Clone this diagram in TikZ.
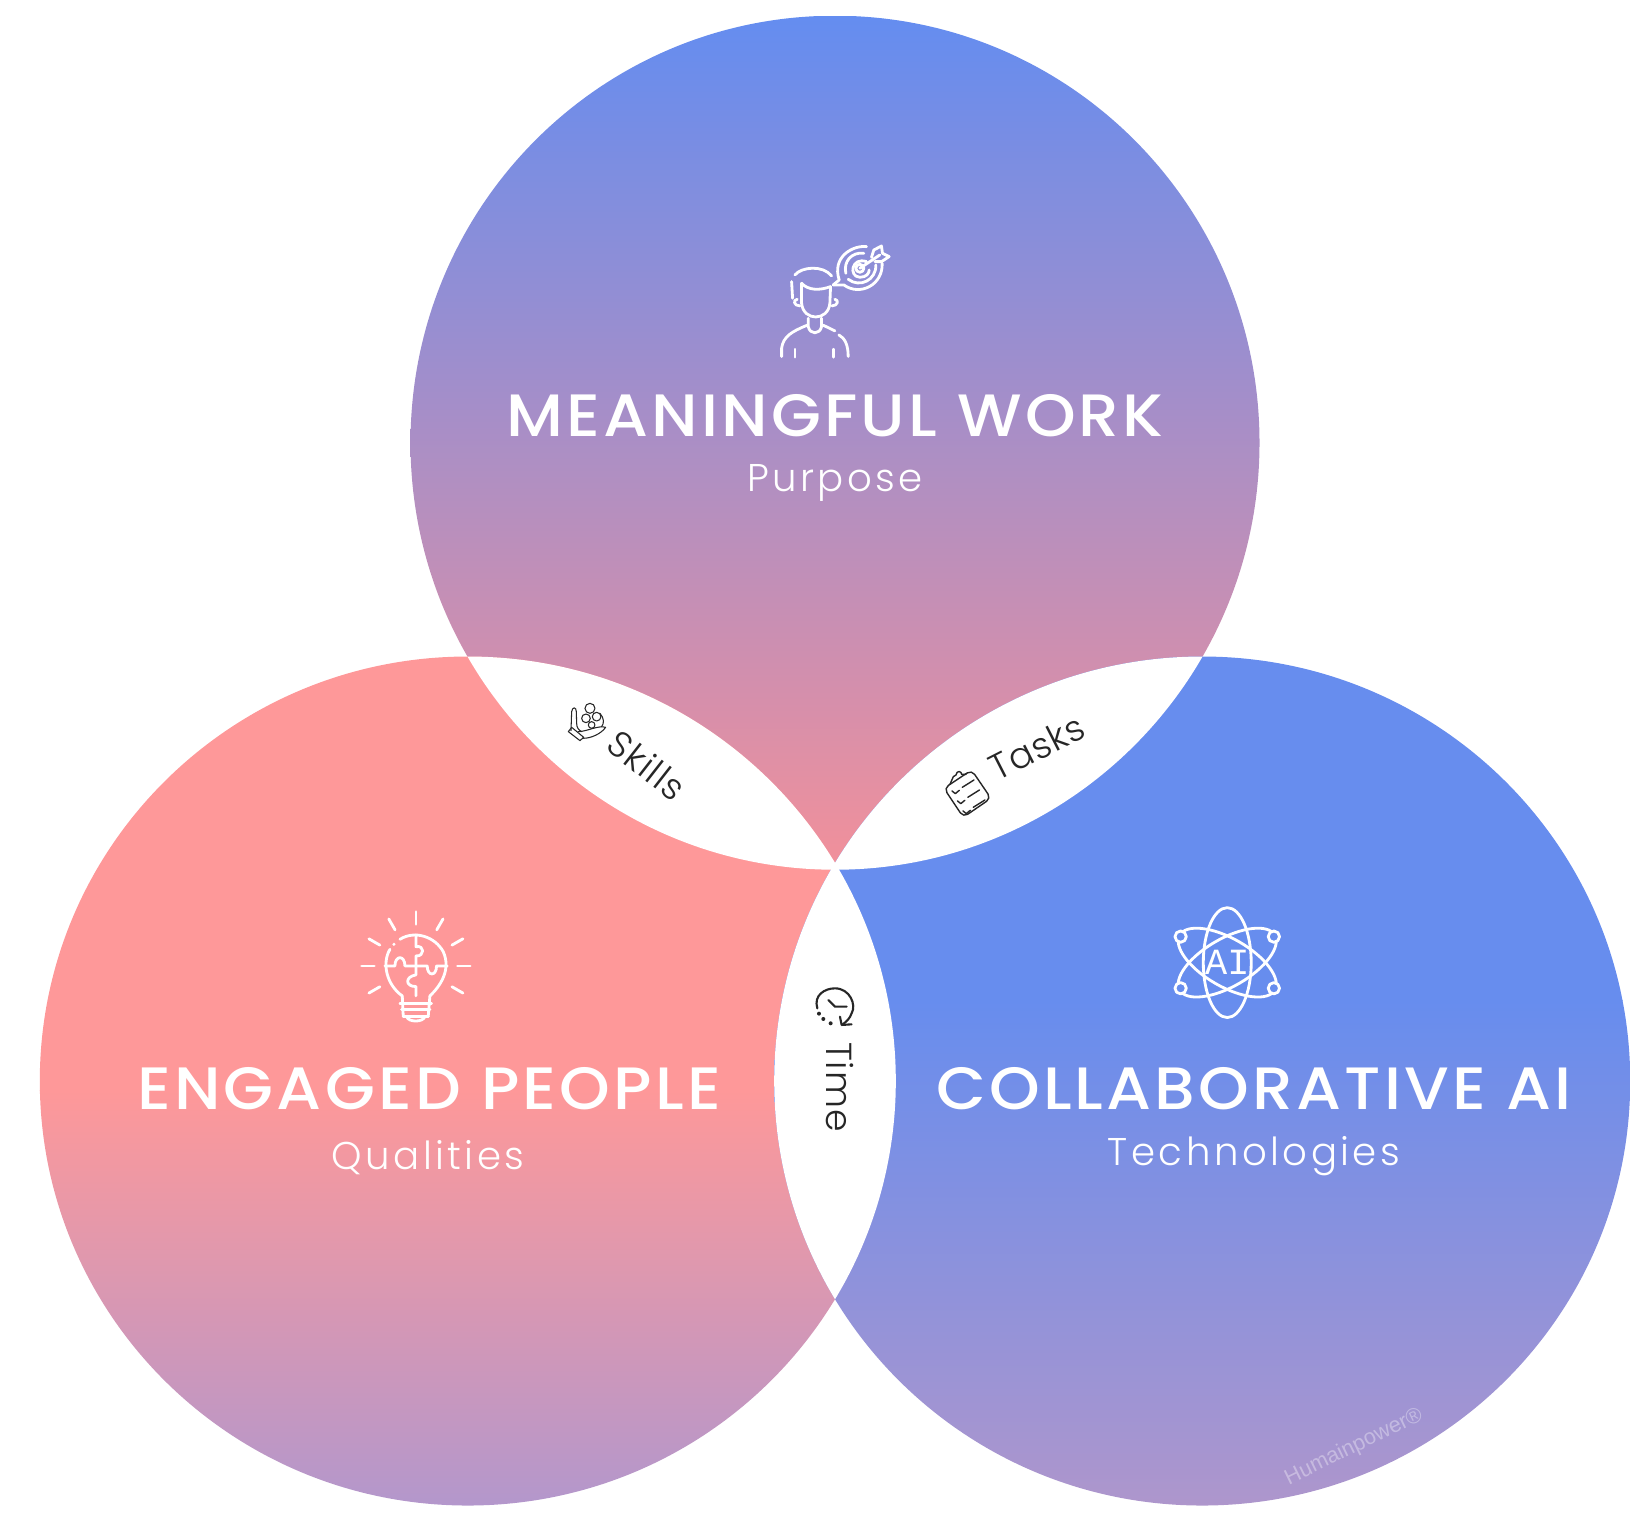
\documentclass[tikz,border=0pt]{standalone}
\usepackage{fontspec}
\setmainfont{Poppins}
\newfontfamily\headfont[LetterSpace=5.4,FakeStretch=1.08]{Poppins Medium}
\newfontfamily\subfont[LetterSpace=9]{Poppins Light}
\newfontfamily\gapfont[LetterSpace=3]{Poppins Light}
\newfontfamily\markfont{Liberation Sans}
\newfontfamily\aifont{Liberation Mono}

\definecolor{topblue}{HTML}{648DF0}
\definecolor{toppink}{HTML}{F2909A}
\definecolor{leftpink}{HTML}{FE9899}
\definecolor{leftpurple}{HTML}{B397CC}
\definecolor{rightblue}{HTML}{678DEE}
\definecolor{rightpurple}{HTML}{AE96CC}

\tikzset{
	headtext/.style={text=white, font=\headfont\fontsize{17}{19}\selectfont},
	subtext/.style={text=white, font=\subfont\fontsize{11}{13}\selectfont},
	gaptext/.style={text=black!85, font=\gapfont\fontsize{10.3}{12}\selectfont},
	whiteicon/.style={draw=white, line width=0.8pt, line cap=round, line join=round},
	blackicon/.style={draw=black!85, line width=0.4pt, line cap=round, line join=round},
}

\newcommand{\topcircle}{(835,442.7) ellipse [x radius=424.5, y radius=427]}
\newcommand{\leftcircle}{(467.8,1081) ellipse [x radius=428, y radius=424.5]}
\newcommand{\rightcircle}{(1202.2,1081) ellipse [x radius=428, y radius=424.5]}

\begin{document}
\begin{tikzpicture}[x=0.1mm, y=-0.1mm]
	\useasboundingbox (0,0) rectangle (1639,1513);

	\begin{scope}
		\clip \topcircle;
		\shade[top color=topblue, bottom color=toppink] (400,16) rectangle (1270,870);
	\end{scope}
	\begin{scope}
		\clip \leftcircle;
		\fill[leftpink] (30,650) rectangle (900,1091);
		\shade[top color=leftpink, bottom color=leftpurple] (30,1090) rectangle (900,1506);
	\end{scope}
	\begin{scope}
		\clip \rightcircle;
		\fill[rightblue] (770,650) rectangle (1639,1001);
		\shade[top color=rightblue, bottom color=rightpurple] (770,1000) rectangle (1639,1506);
	\end{scope}

	% the overlaps stay white
	\begin{scope}
		\clip \topcircle;
		\fill[white] \leftcircle;
		\fill[white] \rightcircle;
	\end{scope}
	\begin{scope}
		\clip \leftcircle;
		\fill[white] \rightcircle;
	\end{scope}

	\node[headtext] (work) at (835,416) {MEANINGFUL WORK};
	\node[subtext] (purpose) at (835,483) {Purpose};
	\node[headtext] (people) at (429,1089) {ENGAGED PEOPLE};
	\node[subtext] (qualities) at (428,1158) {Qualities};
	\node[headtext] (collab) at (1254,1089) {COLLABORATIVE AI};
	\node[subtext] (tech) at (1254,1156) {Technologies};

	\node[gaptext, rotate=-38] (skills) at (647,765) {Skills};
	\node[gaptext, rotate=27] (tasks) at (1037,747) {Tasks};
	\node[gaptext, rotate=-90] (time) at (840,1087) {Time};
	\node[text=white, opacity=0.35, font=\markfont\fontsize{6.2}{7}\selectfont, rotate=26] (mark) at (1354,1447) {Humainpower®};

	% person and target
	\begin{scope}[shift={(720,220)}, x=0.0333mm, y=-0.0333mm]
		\draw[whiteicon] (225,165) .. controls (245,140) and (310,135) .. (335,168);
		\draw[whiteicon] (215,185) -- (218,235);
		\draw[whiteicon] (245,190) .. controls (265,212) and (300,212) .. (332,200);
		\draw[whiteicon] (245,190) -- (245,250) .. controls (250,305) and (325,305) .. (330,250) -- (332,200);
		\draw[whiteicon] (232,238) .. controls (218,240) and (222,258) .. (240,258);
		\draw[whiteicon] (345,238) .. controls (358,240) and (354,258) .. (336,258);
		\draw[whiteicon] (265,295) -- (265,320) .. controls (270,345) and (300,345) .. (305,320) -- (305,295);
		\draw[whiteicon] (185,410) -- (185,385) .. controls (190,350) and (215,335) .. (262,316);
		\draw[whiteicon] (310,316) -- (345,333);
		\draw[whiteicon] (357,345) .. controls (375,355) and (385,375) .. (385,410);
		\draw[whiteicon] (225,388) -- (225,412);
		\draw[whiteicon] (342,388) -- (342,412);
		\draw[whiteicon] (340,195) -- (358,180) .. controls (335,110) and (400,75) .. (440,80);
		\draw[whiteicon] (340,195) -- (372,195) .. controls (420,230) and (490,195) .. (487,130);
		\draw[whiteicon] (432,100) .. controls (395,95) and (370,125) .. (378,160);
		\draw[whiteicon] (385,178) .. controls (420,205) and (470,180) .. (468,135);
		\draw[whiteicon] (420,145) circle (12);
		\draw[whiteicon] (440,125) .. controls (395,110) and (385,170) .. (420,172) .. controls (440,172) and (448,160) .. (448,150);
		\draw[whiteicon] (420,145) -- (480,105);
		\draw[whiteicon] (455,112) -- (462,90) -- (485,78) -- (488,100) -- (508,110) -- (485,125) -- (465,125);
	\end{scope}

	% bulb
	\begin{scope}[shift={(340,890)}, x=0.0333mm, y=-0.0333mm]
		\foreach \a in {0,-30,-60,-90,-120,-150,180,150,30} {
			\draw[whiteicon] (228,228) ++(\a:125) -- ++(\a:38);
		}
		\draw[whiteicon] (180,148) .. controls (225,120) and (285,140) .. (310,185) .. controls (335,240) and (300,290) .. (270,318);
		\draw[whiteicon] (150,178) .. controls (125,220) and (140,285) .. (187,318);
		\fill[white] (162,163) circle (5);
		\draw[whiteicon] (228,135) -- (228,170) .. controls (255,165) and (255,200) .. (228,198) -- (228,255) .. controls (195,260) and (195,290) .. (228,290) -- (228,318);
		\draw[whiteicon] (135,228) -- (165,228) .. controls (165,195) and (195,195) .. (195,228) -- (262,228) .. controls (262,260) and (290,260) .. (290,228) -- (322,228);
		\draw[whiteicon] (187,318) -- (190,380);
		\draw[whiteicon] (270,318) -- (265,380);
		\draw[whiteicon] (180,340) -- (275,340);
		\draw[whiteicon] (185,360) -- (270,360);
		\draw[whiteicon] (190,380) -- (265,380);
		\draw[whiteicon] (200,380) .. controls (205,398) and (250,398) .. (255,380);
	\end{scope}

	% atom
	\begin{scope}[shift={(1150,890)}, x=0.0333mm, y=-0.0333mm]
		\draw[whiteicon] (232,218) ellipse [x radius=72, y radius=165];
		\draw[whiteicon, rotate around={60:(232,218)}] (232,218) ellipse [x radius=72, y radius=165];
		\draw[whiteicon, rotate around={-60:(232,218)}] (232,218) ellipse [x radius=72, y radius=165];
		\foreach \x/\y in {92/140, 372/140, 92/295, 372/295} {
			\filldraw[whiteicon, fill=rightblue] (\x,\y) circle (17);
		}
		\node[text=white, font=\aifont\fontsize{10.5}{12}\selectfont] (ai) at (232,218) {AI};
	\end{scope}

	% skills hand
	\begin{scope}[shift={(555,690)}, x=0.0333mm, y=-0.0333mm]
		\draw[blackicon, line width=0.3pt] (48,122) -- (50,65) .. controls (52,50) and (64,50) .. (64,65) -- (65,100);
		\draw[blackicon, line width=0.3pt] (40,125) -- (75,152) -- (86,142) -- (50,112) -- cycle;
		\draw[blackicon, line width=0.3pt] (70,125) .. controls (95,125) and (130,105) .. (152,112) .. controls (140,130) and (110,145) .. (85,145);
		\draw[blackicon, line width=0.3pt] (65,100) .. controls (65,112) and (70,120) .. (80,125);
		\draw[blackicon, line width=0.3pt] (105,55) circle (15);
		\draw[blackicon, line width=0.3pt] (125,80) circle (13);
		\draw[blackicon, line width=0.3pt] (93,85) circle (13);
		\draw[blackicon, line width=0.3pt] (110,105) circle (10);
		\draw[blackicon, line width=0.3pt] (135,70) .. controls (148,85) and (148,100) .. (140,110);
	\end{scope}

	% tasks clipboard
	\begin{scope}[shift={(930,755)}, x=0.0333mm, y=-0.0333mm]
		\draw[blackicon, rounded corners=1.5pt] (42,100) -- (125,45) -- (183,130) -- (100,187) -- cycle;
		\draw[blackicon] (60,88) -- (70,65) -- (78,60) .. controls (80,45) and (95,48) .. (95,58) -- (108,58);
		\foreach \y in {0,30,60} {
			\draw[blackicon] (97,{97+\y}) ++({0.55*\y},0) -- ++(35,-22);
			\draw[blackicon] (66,{108+\y}) ++({0.55*\y},0) -- ++(10,8) -- ++(12,-10);
		}
	\end{scope}

	% time clock
	\begin{scope}[shift={(800,975)}, x=0.0333mm, y=-0.0333mm]
		\draw[blackicon, line width=0.6pt] (52,100) .. controls (40,60) and (75,40) .. (105,40) .. controls (150,40) and (170,90) .. (155,115) .. controls (150,130) and (140,140) .. (128,148);
		\draw[blackicon, line width=0.6pt] (120,125) -- (125,150) -- (155,148);
		\draw[blackicon, line width=0.6pt] (85,75) -- (105,95) -- (140,95);
		\foreach \x/\y in {57/116, 70/132, 92/145} {
			\fill[black!85] (\x,\y) circle (6);
		}
	\end{scope}
\end{tikzpicture}
\end{document}
